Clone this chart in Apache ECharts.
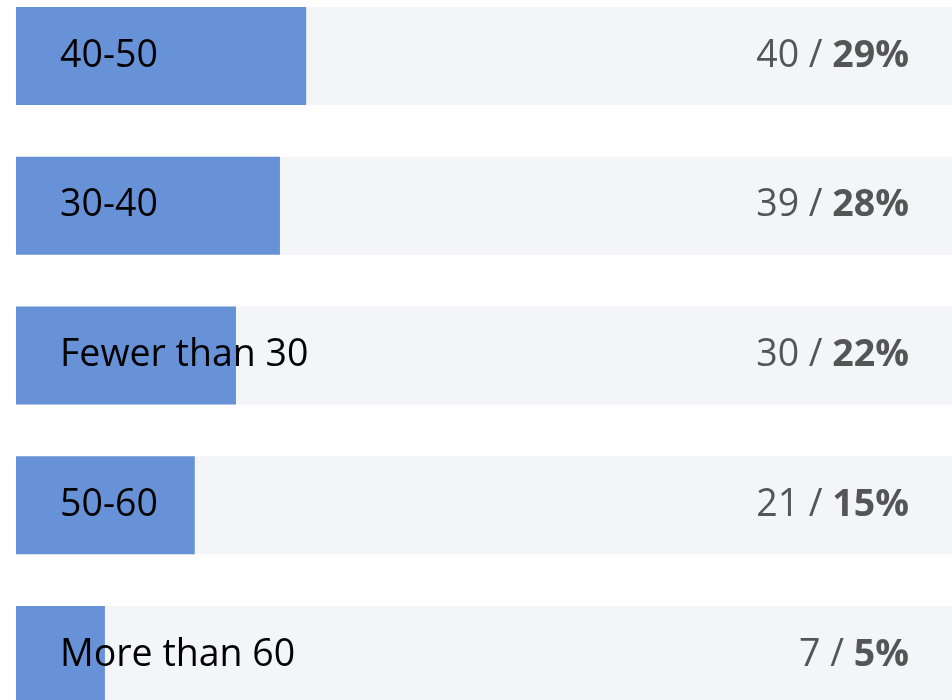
<!DOCTYPE html>
<html>
<head>
    <meta charset="utf-8"/>
    <title>Age groups</title>
    <script src="https://cdn.jsdelivr.net/npm/echarts@6/dist/echarts.min.js"></script>
    <style>
        html, body { margin: 0; padding: 0; background: #fff; overflow: hidden; }
        #wrap { width: 952px; height: 700px; overflow: hidden; position: relative; }
        /* the chart runs past the bottom edge of the view, so it is taller and shifted up */
        #chart { width: 952px; height: 749px; position: absolute; left: 0; top: -19px; }
    </style>
</head>
<body>
<div id="wrap"><div id="chart"></div></div>
<script>
    // categories, top to bottom
    var categories = ['40-50', '30-40', 'Fewer than 30', '50-60', 'More than 60'];
    // respondents per group
    var counts = [40, 39, 30, 21, 7];
    // share shown on the right
    var percents = [29, 28, 22, 15, 5];
    // bar length, as % of the track
    var barLength = [31.0, 28.2, 23.5, 19.1, 9.5];
    var trackMax = 100;

    var chart = echarts.init(document.getElementById('chart'), null, {renderer: 'canvas'});

    var option = {
        animation: false,
        grid: {
            left: 16,
            right: 0,
            top: 0,
            bottom: 0,
            containLabel: false
        },
        xAxis: {
            type: 'value',
            min: 0,
            max: trackMax,
            show: false
        },
        yAxis: {
            type: 'category',
            inverse: true,
            data: categories,
            show: false
        },
        series: [{
            // grey track with the count / percent on the right
            type: 'bar',
            barWidth: 98,
            barGap: '-100%',
            silent: true,
            itemStyle: {color: '#f4f5f9'},
            data: categories.map(function () { return trackMax; }),
            label: {
                show: true,
                position: 'insideRight',
                distance: 43,
                formatter: function (p) {
                    return '{n|' + counts[p.dataIndex] + ' / }{p|' + percents[p.dataIndex] + '%}';
                },
                rich: {
                    n: {fontFamily: 'Open Sans', fontSize: 37.5, color: '#555555'},
                    p: {fontFamily: 'Open Sans', fontSize: 37.5, fontWeight: 'bold', color: '#555555'}
                }
            }
        }, {
            type: 'bar',
            barWidth: 98,
            barGap: '-100%',
            itemStyle: {color: '#6892d8'},
            data: barLength,
            label: {
                show: true,
                position: 'insideLeft',
                distance: 44,
                fontFamily: 'Open Sans',
                fontSize: 37.5,
                color: '#000000',
                formatter: function (p) {
                    return categories[p.dataIndex];
                }
            }
        }]
    };

    chart.setOption(option);
</script>
</body>
</html>
